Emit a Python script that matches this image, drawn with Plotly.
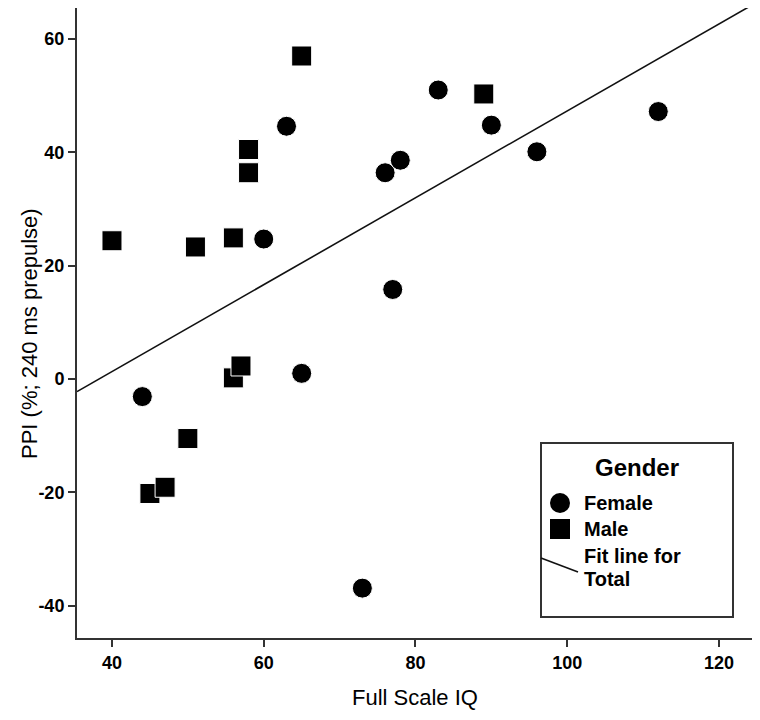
import numpy as np
import plotly.graph_objects as go

# ---- data ----
female_iq = [44, 60, 63, 65, 73, 76, 77, 78, 83, 90, 96, 112]
female_ppi = [-3.1, 24.7, 44.6, 1.0, -36.9, 36.4, 15.8, 38.6, 51.0, 44.8, 40.1, 47.2]
male_iq = [40, 45, 47, 50, 51, 56, 56, 57, 58, 58, 65, 89]
male_ppi = [24.4, -20.2, -19.1, -10.5, 23.3, 24.9, 0.2, 2.3, 40.5, 36.4, 57.0, 50.3]
x_ticks = [40, 60, 80, 100, 120]
x_tick_labels = ["40", "60", "80", "100", "120"]
y_ticks = [-40, -20, 0, 20, 40, 60]
y_tick_labels = ["-40", "-20", "0", "20", "40", "60"]
x_title = "Full Scale IQ"
y_title = "PPI (%; 240 ms prepulse)"
legend_title = "Gender"
legend_labels = ["Female", "Male", "Fit line for", "Total"]

# ---- layout constants ----
OFF = 8                      # page body margin
W, H = 744, 704
L, R, T, B = 69, 0, 0, 74
PW, PH = W - L - R, H - T - B
x_range = [35.39, 124.35]
y_range = [-45.7, 65.47]
AX = "#333333"
FONT = "Liberation Sans, Arial, sans-serif"


def px(x):
    """screen pixel x -> paper fraction"""
    return (x - OFF - L) / PW


def py(y):
    """screen pixel y -> paper fraction"""
    return (H - B - (y - OFF)) / PH


# fit line for total
all_x = np.array(female_iq + male_iq, dtype=float)
all_y = np.array(female_ppi + male_ppi, dtype=float)
slope, intercept = np.polyfit(all_x, all_y, 1)
fit_x = np.array(x_range)
fit_y = slope * fit_x + intercept

fig = go.Figure()
fig.add_trace(go.Scatter(x=fit_x, y=fit_y, mode="lines",
                         line=dict(color="#111111", width=1.6),
                         showlegend=False, hoverinfo="skip"))
fig.add_trace(go.Scatter(x=female_iq, y=female_ppi, mode="markers", name="Female",
                         marker=dict(symbol="circle", size=20, color="black",
                                     line=dict(color="white", width=1)),
                         showlegend=False))
fig.add_trace(go.Scatter(x=male_iq, y=male_ppi, mode="markers", name="Male",
                         marker=dict(symbol="square", size=20, color="black",
                                     line=dict(color="white", width=1)),
                         showlegend=False))

axis_common = dict(showline=True, mirror=True, linecolor=AX, linewidth=2,
                   ticks="outside", ticklen=7, tickwidth=2, tickcolor=AX,
                   showgrid=False, zeroline=False, automargin=False,
                   tickfont=dict(family=FONT, size=18, color="black", weight="bold"))

fig.update_layout(
    width=W, height=H,
    margin=dict(l=L, r=R, t=T, b=B, pad=0),
    plot_bgcolor="white", paper_bgcolor="white",
    xaxis=dict(range=x_range, tickvals=x_ticks, ticktext=x_tick_labels, **axis_common),
    yaxis=dict(range=y_range, tickvals=y_ticks, ticktext=y_tick_labels, **axis_common),
)

# axis titles
tf = dict(family=FONT, size=22, color="black")
fig.add_annotation(xref="paper", yref="paper", x=px(415), y=py(711), text=x_title,
                   showarrow=False, xanchor="center", yanchor="bottom", font=tf,
                   borderpad=0)
fig.add_annotation(xref="paper", yref="paper", x=px(30), y=py(334), text=y_title,
                   showarrow=False, xanchor="center", yanchor="middle", font=tf,
                   textangle=-90)

# ---- legend (drawn manually to match the boxed SPSS legend) ----
shapes = [
    dict(type="rect", xref="paper", yref="paper",
         x0=px(541), x1=px(733), y0=py(617), y1=py(443),
         line=dict(color=AX, width=2), fillcolor="white"),
    dict(type="circle", xref="paper", yref="paper",
         x0=px(550), x1=px(570), y0=py(513), y1=py(493),
         line=dict(color="black", width=0), fillcolor="black"),
    dict(type="rect", xref="paper", yref="paper",
         x0=px(550), x1=px(570), y0=py(539), y1=py(519),
         line=dict(color="black", width=0), fillcolor="black"),
    dict(type="line", xref="paper", yref="paper",
         x0=px(541), x1=px(578), y0=py(558), y1=py(572),
         line=dict(color="#111111", width=1.6)),
]
for s in shapes:
    fig.add_shape(**s)

lf = dict(family=FONT, size=20, color="black", weight="bold")
fig.add_annotation(xref="paper", yref="paper", x=px(637), y=py(467), text=legend_title,
                   showarrow=False, xanchor="center", yanchor="middle",
                   font=dict(family=FONT, size=24, color="black", weight="bold"))
for label, ypix in zip(legend_labels, [503, 529, 556, 579]):
    fig.add_annotation(xref="paper", yref="paper", x=px(583), y=py(ypix), text=label,
                       showarrow=False, xanchor="left", yanchor="middle", font=lf,
                       borderpad=0)

fig.write_html("out.html")
